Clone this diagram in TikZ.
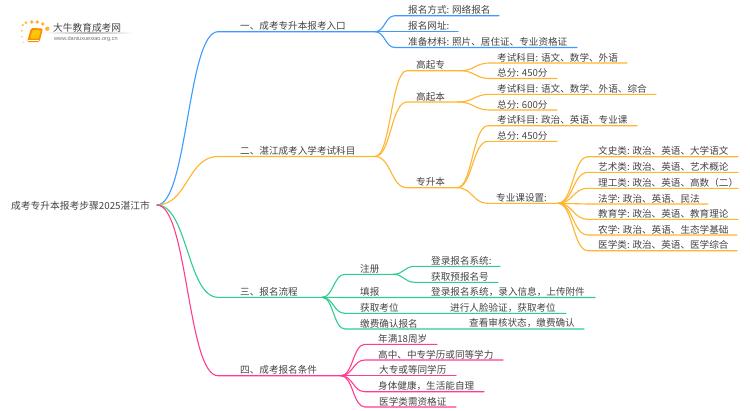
\documentclass[tikz,border=0pt]{standalone}
\usepackage{fontspec}
\newfontfamily\cjk{Noto Sans CJK SC}
\newfontfamily\urlfont{Liberation Sans}
\usetikzlibrary{calc}
\definecolor{cblue}{HTML}{3D9BFF}
\definecolor{corange}{HTML}{FFB52E}
\definecolor{cgreen}{HTML}{2ECF8E}
\definecolor{cpink}{HTML}{FF3D8F}
\definecolor{ctext}{HTML}{444444}
\tikzset{
  lbl/.style={anchor=west,inner sep=0pt,text=ctext,font=\cjk\fontsize{9.6}{11}\selectfont},
  wire/.style={line width=1.1pt,line cap=round,line join=round}
}
% id, parent coordinate, start x, end x, line y, text x, colour, text
\newcommand{\topicline}[8]{%
  \node[lbl] (#1) at (#6,#5-5.6) {#8};
  \coordinate (#1-s) at (#3,#5);
  \coordinate (#1-e) at (#4,#5);
  \coordinate (#1-m) at ($(#2)!0.5!(#1-s)$);
  \draw[wire,#7] (#2) .. controls (#1-m |- #2) and (#1-m |- #1-s) .. (#1-s) -- (#1-e);
}
\begin{document}
\begin{tikzpicture}[x=1pt,y=-1pt]
\useasboundingbox (0,0) rectangle (750,410);
\fill[white] (0,0) rectangle (750,410);
% logo
\foreach \x/\y/\r/\c in {22.7/25/1.4/FFC94D,21.7/30.7/1.2/FFD36B,26/22.7/1.6/FFC23A,31.7/22/1.9/FFB52E,37.3/22/1.9/FFB52E,42.7/24/1.9/FFB52E,47.3/28.7/2.2/FFB52E,22/36.7/1.1/FFD98A,23.3/42.3/1/FFE0A0}{
  \definecolor{dotc}{HTML}{\c}
  \fill[dotc] (\x,\y) circle (\r);
}
\fill[orange!90!yellow,rounded corners=1.5pt] (31,28) -- (43,28.5) -- (39.5,42) -- (27,42) -- cycle;
\fill[yellow!60!orange,rounded corners=1pt] (32.5,30) -- (41,30.3) -- (38.5,38.5) -- (30,38.5) -- cycle;
\draw[white,line width=0.5pt] (28,40) -- (38.5,40);
\shade[left color=white,right color=white,middle color=black!30] (45,32.8) rectangle (133,33.4);
\node[lbl,font=\cjk\fontsize{9.7}{11}\selectfont] (logotext) at (53,27.5) {大牛教育成考网};
\node[lbl,font=\urlfont\fontsize{5.6}{7}\selectfont,text=black!55] (logourl) at (54,38.7) {www.daniuxuexiao.org.cn};
% root
\node[lbl,font=\cjk\fontsize{9.75}{11}\selectfont] (root) at (11,205.6) {成考专升本报考步骤2025湛江市};
\coordinate (rootend) at (157,205);
% branch 1
\topicline{a}{rootend}{218}{375}{31.7}{240}{cblue}{一、成考专升本报考入口}
\topicline{a1}{a-e}{395}{499}{15.7}{408}{cblue}{报名方式: 网络报名}
\topicline{a2}{a-e}{395}{458}{31.7}{408}{cblue}{报名网址:}
\topicline{a3}{a-e}{395}{577}{47.5}{408}{cblue}{准备材料: 照片、居住证、专业资格证}
% branch 2
\topicline{b}{rootend}{218}{375}{156.5}{240}{corange}{二、湛江成考入学考试科目}
\topicline{b1}{b-e}{407}{460}{70.7}{416}{corange}{高起专}
\topicline{b11}{b1-e}{490}{627}{63}{497}{corange}{考试科目: 语文、数学、外语}
\topicline{b12}{b1-e}{490}{557}{78.5}{497}{corange}{总分: 450分}
\topicline{b2}{b-e}{407}{458}{102}{416}{corange}{高起本}
\topicline{b21}{b2-e}{490}{656}{94.3}{497}{corange}{考试科目: 语文、数学、外语、综合}
\topicline{b22}{b2-e}{490}{557}{110}{497}{corange}{总分: 600分}
\topicline{b3}{b-e}{407}{457}{187.7}{416}{corange}{专升本}
\topicline{b31}{b3-e}{488}{637}{125.7}{497}{corange}{考试科目: 政治、英语、专业课}
\topicline{b32}{b3-e}{488}{557}{141.3}{497}{corange}{总分: 450分}
\topicline{b33}{b3-e}{488}{558}{203.3}{496}{corange}{专业课设置:}
\topicline{c1}{b33-e}{588}{738}{156.7}{598}{corange}{文史类: 政治、英语、大学语文}
\topicline{c2}{b33-e}{588}{738}{172.3}{598}{corange}{艺术类: 政治、英语、艺术概论}
\topicline{c3}{b33-e}{588}{738}{188.3}{598}{corange}{理工类: 政治、英语、高数（二）}
\topicline{c4}{b33-e}{588}{708}{204}{598}{corange}{法学: 政治、英语、民法}
\topicline{c5}{b33-e}{588}{738}{219.3}{598}{corange}{教育学: 政治、英语、教育理论}
\topicline{c6}{b33-e}{588}{737}{235}{598}{corange}{农学: 政治、英语、生态学基础}
\topicline{c7}{b33-e}{588}{737}{250.7}{598}{corange}{医学类: 政治、英语、医学综合}
% branch 3
\topicline{d}{rootend}{218}{322}{297.3}{240}{cgreen}{三、报名流程}
\topicline{d1}{d-e}{345}{393}{274.3}{360}{cgreen}{注册}
\topicline{d11}{d1-e}{415}{500}{266.3}{431}{cgreen}{登录报名系统:}
\topicline{d12}{d1-e}{415}{498}{282.3}{431}{cgreen}{获取预报名号}
\topicline{d2}{d-e}{345}{595}{297.5}{360}{cgreen}{填报}
\node[lbl] (d2t) at (431,291.9) {登录报名系统，录入信息，上传附件};
\topicline{d3}{d-e}{345}{566}{313.3}{360}{cgreen}{获取考位}
\node[lbl] (d3t) at (450,307.7) {进行人脸验证，获取考位};
\topicline{d4}{d-e}{345}{584}{329}{360}{cgreen}{缴费确认报名}
\node[lbl] (d4t) at (469,323.4) {查看审核状态，缴费确认};
% branch 4
\topicline{e}{rootend}{218}{341}{375.7}{240}{cpink}{四、成考报名条件}
\topicline{e1}{e-e}{365}{437}{344.3}{378}{cpink}{年满18周岁}
\topicline{e2}{e-e}{365}{503}{360}{378}{cpink}{高中、中专学历或同等学力}
\topicline{e3}{e-e}{365}{456}{375.7}{379}{cpink}{大专或等同学历}
\topicline{e4}{e-e}{365}{484}{391.7}{378}{cpink}{身体健康，生活能自理}
\topicline{e5}{e-e}{365}{456}{407}{379}{cpink}{医学类需资格证}
\end{tikzpicture}
\end{document}
